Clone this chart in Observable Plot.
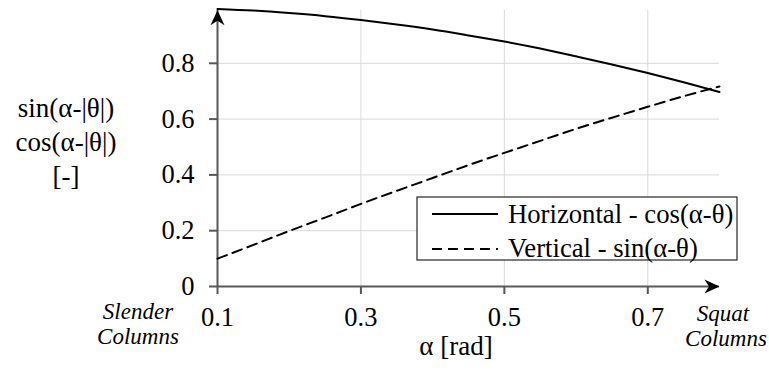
<!DOCTYPE html>
<html><head><meta charset="utf-8">
<script src="https://cdn.jsdelivr.net/npm/d3@7"></script>
<script src="https://cdn.jsdelivr.net/npm/@observablehq/plot@0.6"></script>
<style>body{margin:0;background:#fff}#chart{width:769px;height:372px}
#chart svg, #chart svg text{font-family:"Liberation Serif","Times New Roman",serif !important;}</style>
</head><body><div id="chart"></div>
<script>
// ---- data ----
const alpha      = [0.10, 0.15, 0.20, 0.25, 0.30, 0.35, 0.40, 0.45, 0.50, 0.55, 0.60, 0.65, 0.70, 0.75, 0.80];
const horizontal = [0.995, 0.989, 0.980, 0.969, 0.955, 0.939, 0.921, 0.900, 0.878, 0.853, 0.825, 0.796, 0.765, 0.732, 0.697];
const vertical   = [0.100, 0.149, 0.199, 0.247, 0.296, 0.343, 0.389, 0.435, 0.479, 0.522, 0.565, 0.605, 0.644, 0.682, 0.717];
const seriesNames = ["Horizontal - cos(α-θ)", "Vertical - sin(α-θ)"];
const xTicks = [0.1, 0.3, 0.5, 0.7];
const yTicks = [0, 0.2, 0.4, 0.6, 0.8];
const xDomain = [0.1, 0.8];
const yDomain = [0, 1];
const yArrowTop = 0.99;
const yLabelLines = ["sin(α-|θ|)", "cos(α-|θ|)", "[-]"];
const xLabel = "α [rad]";
const leftNote = ["Slender", "Columns"];
const rightNote = ["Squat", "Columns"];

const rows = alpha.map((a, i) => ({a, h: horizontal[i], v: vertical[i]}));
const axisColor = "#595959";
const gridColor = "#d9d9d9";
const font = "Liberation Serif, Times New Roman, serif";

const arrowRight = {draw(ctx) { ctx.moveTo(0, 0); ctx.lineTo(-15, -7); ctx.lineTo(-10.5, 0); ctx.lineTo(-15, 7); ctx.closePath(); }};
const arrowUp = {draw(ctx) { ctx.moveTo(0, 0); ctx.lineTo(-7, 15); ctx.lineTo(0, 10.5); ctx.lineTo(7, 15); ctx.closePath(); }};

const plot = Plot.plot({
  width: 769, height: 372,
  marginLeft: 217, marginRight: 50, marginTop: 7, marginBottom: 86,
  style: {fontFamily: font, fontSize: "26.5px", color: "#000", background: "#fff"},
  x: {domain: xDomain},
  y: {domain: yDomain},
  marks: [
    Plot.ruleY(yTicks.filter(d => d > 0), {x1: xDomain[0], x2: xDomain[1], stroke: gridColor, strokeWidth: 1}),
    Plot.ruleX(xTicks.filter(d => d > xDomain[0]), {y1: 0, y2: yArrowTop, stroke: gridColor, strokeWidth: 1}),
    Plot.axisY(yTicks, {tickSize: 8, tickPadding: 15, tickFormat: d => d === 0 ? "0" : d.toFixed(1), stroke: axisColor, strokeWidth: 2, fontSize: 26.5, label: null}),
    Plot.axisX(xTicks, {tickSize: 8, tickPadding: 13, tickFormat: d => d.toFixed(1), stroke: axisColor, strokeWidth: 2, fontSize: 26.5, label: null}),
    Plot.ruleY([0], {x1: xDomain[0], x2: xDomain[1], stroke: axisColor, strokeWidth: 2}),
    Plot.ruleX([xDomain[0]], {y1: 0, y2: yArrowTop, stroke: axisColor, strokeWidth: 2}),
    Plot.line(rows, {x: "a", y: "h", stroke: "#000", strokeWidth: 2, curve: "natural"}),
    Plot.line(rows, {x: "a", y: "v", stroke: "#000", strokeWidth: 2, strokeDasharray: "10,6", curve: "natural"}),
    Plot.dot([{x: xDomain[1], y: 0}], {x: "x", y: "y", symbol: arrowRight, fill: "#000", stroke: null}),
    Plot.dot([{x: xDomain[0], y: yArrowTop}], {x: "x", y: "y", symbol: arrowUp, fill: "#000", stroke: null})
  ]
});
document.getElementById("chart").append(plot);

// ---- annotations & legend ----
const svg = d3.select(plot);
const g = svg.append("g").attr("font-family", font).attr("fill", "#000");
g.selectAll("text.yl").data(yLabelLines).join("text")
  .attr("x", 66).attr("y", (d, i) => 117 + i * 34)
  .attr("text-anchor", "middle").attr("font-size", 27).text(d => d);
g.append("text").attr("x", 456).attr("y", 355).attr("text-anchor", "middle").attr("font-size", 27).text(xLabel);
g.selectAll("text.ln").data(leftNote).join("text")
  .attr("x", 138).attr("y", (d, i) => 319 + i * 25)
  .attr("text-anchor", "middle").attr("font-size", 23).attr("font-style", "italic").text(d => d);
g.selectAll("text.rn").data(rightNote).join("text")
  .attr("x", (d, i) => i ? 726 : 723).attr("y", (d, i) => 321 + i * 25)
  .attr("text-anchor", "middle").attr("font-size", 23).attr("font-style", "italic").text(d => d);

const lg = svg.append("g").attr("transform", "translate(417,197)");
lg.append("rect").attr("width", 320).attr("height", 63).attr("fill", "#fff").attr("stroke", "#262626").attr("stroke-width", 1.2);
seriesNames.forEach((name, i) => {
  lg.append("line").attr("x1", 15).attr("x2", 81).attr("y1", 17 + i * 35).attr("y2", 17 + i * 35)
    .attr("stroke", "#000").attr("stroke-width", 2).attr("stroke-dasharray", i ? "10,6" : null);
  lg.append("text").attr("x", 91).attr("y", 26 + i * 34).attr("text-anchor", "start")
    .attr("font-family", font).attr("font-size", 26.7).text(name);
});
</script>
</body></html>
